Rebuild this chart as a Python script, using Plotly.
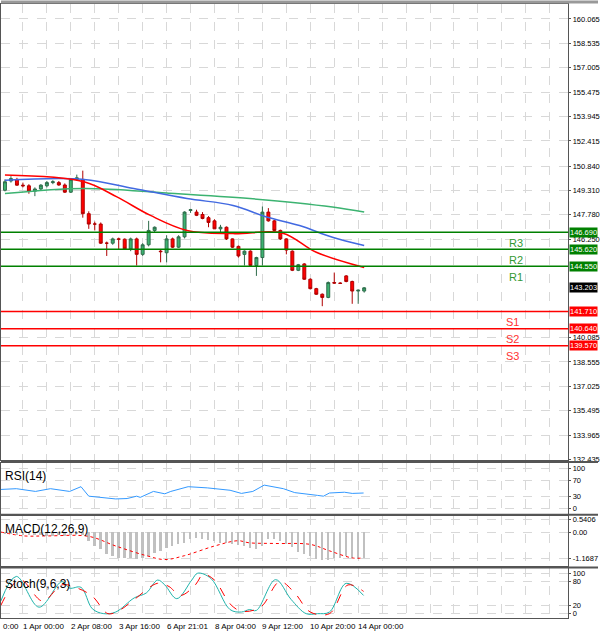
import plotly.graph_objects as go

# ---------------- data ----------------
opens = [149.32,149.9,150.0,149.64,149.6,149.26,149.4,149.6,149.8,149.8,149.65,149.2,150.0,150.0,147.85,147.2,147.2,146.0,146.0,146.27,
         146.25,145.64,146.27,145.3,145.9,146.8,145.5,145.4,146.27,145.75,146.4,148.05,147.95,147.8,147.6,147.4,146.9,147.0,146.27,145.8,
         145.3,145.5,144.6,145.1,147.95,147.4,146.8,146.27,145.5,144.3,144.7,143.74,143.15,142.8,142.6,143.53,143.5,143.95,143.6,143.0,143.0]
highs = [150.0,150.2,150.1,149.8,149.7,149.5,149.7,149.9,149.95,149.9,149.75,150.05,150.3,150.55,148.0,147.35,147.3,146.1,146.35,146.35,
         146.3,146.35,146.35,146.0,147.4,147.05,145.6,146.5,146.35,146.5,148.0,148.15,148.1,147.95,147.7,147.5,147.15,147.05,146.3,145.85,
         145.55,145.55,145.15,148.3,148.2,147.45,146.85,146.3,145.55,144.7,144.75,143.8,143.2,142.85,143.6,144.16,143.55,144.0,143.65,143.1,143.25]
lows = [149.25,149.8,149.6,149.5,149.1,148.95,149.3,149.5,149.7,149.6,149.15,149.15,149.9,147.6,146.9,146.8,145.95,145.2,145.9,145.6,
        145.6,145.5,144.6,145.2,145.8,146.7,144.8,144.8,145.7,145.7,146.3,147.9,147.7,147.5,147.0,146.9,146.7,146.2,145.7,145.1,
        144.6,144.55,143.95,144.6,147.35,146.75,146.2,145.3,144.25,144.25,143.7,143.1,142.75,142.05,142.55,143.45,143.45,143.55,142.2,142.2,142.9]
closes = [149.85,150.05,149.64,149.6,149.26,149.4,149.64,149.8,149.85,149.65,149.2,150.0,150.1,147.85,147.2,147.2,146.0,146.0,146.27,146.25,
          145.64,146.27,145.3,145.9,146.8,147.0,145.47,146.27,145.75,146.4,147.95,148.1,147.75,147.55,147.3,146.9,147.0,146.27,145.75,145.2,
          145.5,144.6,145.1,147.95,147.4,146.8,146.27,145.57,144.3,144.65,143.74,143.15,142.8,142.6,143.53,143.5,143.48,143.6,143.0,143.05,143.2]

ma_blue_idx = [0,13.2,21.5,30.4,38.1,43.7,49.2,54.7,60]
ma_blue = [149.95,150.0,149.43,148.8,148.37,147.64,147.11,146.37,145.85]
ma_green_idx = [0,13.2,27,40.9,54.7,60]
ma_green = [149.11,149.43,149.15,148.8,148.27,147.95]
ma_red_idx = [0,13.2,18.7,24.3,30.4,38.1,46.4,52,60]
ma_red = [150.27,149.85,148.9,147.74,146.8,146.6,146.63,145.43,144.48]

res_names = ["R3","R2","R1"]
res_levels = [146.690,145.620,144.550]
sup_names = ["S1","S2","S3"]
sup_levels = [141.710,140.640,139.570]
last_price = 143.203

price_ticks = [160.065,158.535,157.005,155.475,153.945,152.415,150.840,149.310,147.780,146.250,140.085,138.555,137.025,135.495,133.965,132.435]

rsi_idx = [-0.7,1.9,5.1,7.6,10.8,12.7,14,16.5,18.5,20.4,22,22.6,24.8,26.7,27.7,30.6,33.8,37.6,39.5,41.4,43.3,46.5,48.4,52.2,53.2,54.2,56.7,58,59.9]
rsi = [47,49,42,49,42,54,30,27,23,24,30,27,42,36,42,54,51,45,37,42,58,49,39,32,30,38,40,37,38]

macd_hist = [-0.05,-0.08,-0.1,-0.1,-0.12,-0.1,-0.12,-0.15,-0.15,-0.12,-0.15,-0.1,-0.05,-0.1,
             -0.4,-0.6,-0.75,-0.95,-1.05,-1.1,-1.1,-1.1,-1.15,-1.1,-1.05,-0.9,-0.8,-0.7,-0.6,-0.5,-0.45,
             -0.3,-0.25,-0.3,-0.35,-0.4,-0.45,-0.45,-0.5,-0.55,-0.6,-0.7,-0.75,-0.6,-0.3,-0.3,-0.4,-0.5,-0.65,
             -0.85,-0.95,-1.05,-1.15,-1.2,-1.2,-1.1,-1.1,-1.05,-1.1,-1.15,-1.1]
macd_sig_idx = [-0.7,3.2,7,14,18.5,23.6,26.7,30,35,38.9,40.8,45.2,51,54.2,58,59.9]
macd_sig = [0,-0.17,-0.17,-0.19,-0.61,-1.03,-1.2,-1.03,-0.61,-0.38,-0.47,-0.5,-0.54,-0.82,-1.13,-1.13]

stk_idx = [-0.7,1.9,5.7,9.5,10.8,12.7,14.6,16.5,18.5,21.6,23.6,25.5,26.7,28.7,31.2,32.2,34.4,37.6,39.5,40.8,42,45.2,47.8,50.3,52.2,54.2,57,59.9]
stk = [31,92,16,79,63,65,12,0,4,39,51,83,71,37,83,100,87,10,4,10,8,84,35,0,0,4,75,45]
std_idx = [-0.7,2.5,6.3,9.5,12.1,14.6,17.2,19.1,21.6,25.5,27.4,29.3,31.8,33.1,35,37.6,39.5,42.7,45.9,48.4,51,54.2,57.3,59.9]
std = [20,84,31,71,63,43,0,8,35,75,67,45,71,97,83,24,6,16,79,51,4,0,71,55]

date_labels = ["1 Apr 00:00","2 Apr 08:00","3 Apr 16:00","6 Apr 21:01","8 Apr 04:00","9 Apr 12:00","10 Apr 20:00","14 Apr 00:00"]
date_idx = [3,11,19,27,35,43,51,59]

# ---------------- figure ----------------
n = len(closes)
xs = list(range(n))
fig = go.Figure()
fig.add_trace(go.Candlestick(x=xs, open=opens, high=highs, low=lows, close=closes,
    increasing=dict(fillcolor="#3cb371", line=dict(color="#2e6b4a", width=1)),
    decreasing=dict(fillcolor="#ff0000", line=dict(color="#b00000", width=1)),
    whiskerwidth=0, xaxis="x", yaxis="y", showlegend=False))
fig.add_trace(go.Scatter(x=ma_green_idx, y=ma_green, mode="lines", line=dict(color="#3cb371", width=1.5, shape="spline"), xaxis="x", yaxis="y"))
fig.add_trace(go.Scatter(x=ma_blue_idx, y=ma_blue, mode="lines", line=dict(color="#4169e1", width=1.5, shape="spline"), xaxis="x", yaxis="y"))
fig.add_trace(go.Scatter(x=ma_red_idx, y=ma_red, mode="lines", line=dict(color="#ff0000", width=1.5, shape="spline"), xaxis="x", yaxis="y"))

fig.add_trace(go.Scatter(x=rsi_idx, y=rsi, mode="lines", line=dict(color="#3399ff", width=1), xaxis="x2", yaxis="y2"))
fig.add_trace(go.Bar(x=xs, y=macd_hist, width=0.3, marker=dict(color="#c0c0c0", line=dict(width=0)), xaxis="x3", yaxis="y3"))
fig.add_trace(go.Scatter(x=macd_sig_idx, y=macd_sig, mode="lines", line=dict(color="#ff0000", width=1, dash="dot", shape="spline"), xaxis="x3", yaxis="y3"))
fig.add_trace(go.Scatter(x=stk_idx, y=stk, mode="lines", line=dict(color="#20b2aa", width=1, shape="spline"), xaxis="x4", yaxis="y4"))
fig.add_trace(go.Scatter(x=std_idx, y=std, mode="lines", line=dict(color="#ff0000", width=1, dash="dash", shape="spline"), xaxis="x4", yaxis="y4"))

H = 637
def dom(top, bot):
    return [1 - bot / H, 1 - top / H]

XR = 570
xr = [-0.66, (XR - 4) / 6.017]
xd = [0, XR / 600]
gridc = "#d8d8d8"
xcommon = dict(range=xr, domain=xd, showticklabels=False, tick0=3, dtick=4, showgrid=True,
               gridcolor=gridc, griddash="dash", zeroline=False, showline=True, linecolor="#555", linewidth=1, mirror=True, ticks="")
FN = "Liberation Sans"
tf = dict(family=FN, size=7.5, color="black")
ycommon = dict(side="right", showgrid=True, gridcolor=gridc, griddash="dash", zeroline=False,
               showline=True, linecolor="#555", linewidth=1, mirror=True, tickfont=tf, ticks="outside", ticklen=2, tickcolor="#555",
               ticklabelstandoff=0)

fig.update_layout(
    width=600, height=637, margin=dict(l=0, r=0, t=0, b=0), paper_bgcolor="white", plot_bgcolor="white",
    showlegend=False, bargap=0,
    xaxis=dict(**xcommon, anchor="y", rangeslider=dict(visible=False)),
    xaxis2=dict(**xcommon, anchor="y2", matches="x"),
    xaxis3=dict(**xcommon, anchor="y3", matches="x"),
    xaxis4=dict(**xcommon, anchor="y4", matches="x"),
    yaxis=dict(**ycommon, domain=dom(4, 463), range=[132.4, 161.0], tickvals=price_ticks,
               ticktext=[f"{v:.3f}" for v in price_ticks], anchor="x"),
    yaxis2=dict(**ycommon, domain=dom(466, 517), range=[-14.5, 113.8], tickvals=[0, 30, 70, 100], anchor="x2"),
    yaxis3=dict(**ycommon, domain=dom(519, 570), range=[-1.5, 0.71], tickvals=[0.5406, 0, -1.1687],
                ticktext=["0.5406", "0.00", "-1.1687"], anchor="x3"),
    yaxis4=dict(**ycommon, domain=dom(572, 622), range=[-11, 111.8], tickvals=[0, 20, 80, 100], anchor="x4"),
)

shapes = []
anns = []
for name, lv in zip(res_names, res_levels):
    shapes.append(dict(type="line", xref="x domain", yref="y", x0=0, x1=1, y0=lv, y1=lv, line=dict(color="#008000", width=1.5)))
    anns.append(dict(xref="paper", yref="y", x=527 / 600, y=lv, yshift=-11, text=name, showarrow=False,
                     font=dict(family="Liberation Sans", size=11, color="#339933")))
    anns.append(dict(xref="paper", yref="y", x=(XR + 1) / 600, y=lv, xanchor="left", text=f"{lv:.3f}", showarrow=False,
                     bgcolor="#008000", font=dict(family=FN, size=7.5, color="white"), borderpad=0))
for name, lv in zip(sup_names, sup_levels):
    shapes.append(dict(type="line", xref="x domain", yref="y", x0=0, x1=1, y0=lv, y1=lv, line=dict(color="#ff0000", width=1.5)))
    anns.append(dict(xref="paper", yref="y", x=523 / 600, y=lv, yshift=-10, text=name, showarrow=False,
                     font=dict(family="Liberation Sans", size=11, color="#ff3333")))
    anns.append(dict(xref="paper", yref="y", x=(XR + 1) / 600, y=lv, xanchor="left", text=f"{lv:.3f}", showarrow=False,
                     bgcolor="#ff0000", font=dict(family=FN, size=7.5, color="white"), borderpad=0))
anns.append(dict(xref="paper", yref="y", x=(XR + 1) / 600, y=last_price, xanchor="left", text=f"{last_price:.3f}", showarrow=False,
                 bgcolor="black", font=dict(family=FN, size=7.5, color="white"), borderpad=0))

for txt, yp in [("RSI(14)", 1 - 488 / H), ("MACD(12,26,9)", 1 - 541 / H), ("Stoch(9,6,3)", 1 - 597 / H)]:
    anns.append(dict(xref="paper", yref="paper", x=0.003, y=yp, xanchor="left", text=txt, showarrow=False,
                     font=dict(family="Liberation Sans", size=12, color="black")))
for lab, ix in zip(date_labels, date_idx):
    anns.append(dict(xref="x4", yref="paper", x=ix, y=1 - 624 / H, xanchor="left", yanchor="top", text=lab, showarrow=False,
                     xshift=-2, font=dict(family=FN, size=8, color="black")))
anns.append(dict(xref="paper", yref="paper", x=0, y=1 - 624 / H, xanchor="left", yanchor="top", text="0:00", showarrow=False,
                 font=dict(family=FN, size=8, color="black")))
for yp in [465, 518, 571]:
    shapes.append(dict(type="line", xref="paper", yref="paper", x0=0, x1=1, y0=1 - yp / H, y1=1 - yp / H, line=dict(color="#555", width=2)))
shapes.append(dict(type="line", xref="paper", yref="paper", x0=0, x1=1, y0=1 - 2 / H, y1=1 - 2 / H, line=dict(color="#999", width=3)))
fig.update_layout(shapes=shapes, annotations=anns)
fig.write_html("out.html", config={"displayModeBar": False},
               post_script="document.body.style.margin='0';document.body.style.overflow='hidden';")
